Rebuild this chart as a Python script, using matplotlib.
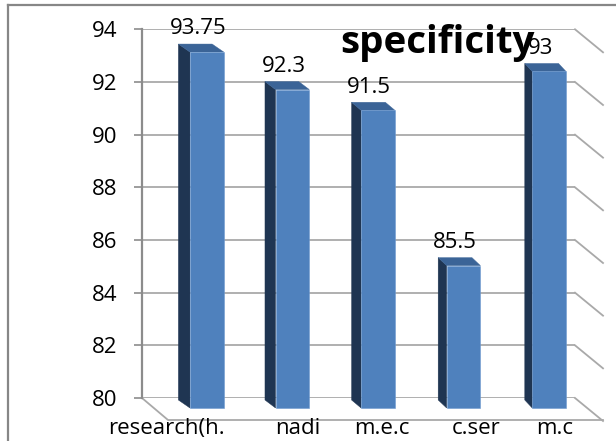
import matplotlib
matplotlib.use("Agg")
import matplotlib.pyplot as plt
from matplotlib.patches import Polygon
from matplotlib.lines import Line2D
from matplotlib.transforms import blended_transform_factory

plt.rcParams['font.family'] = ['Open Sans', 'DejaVu Sans']

# ---- data -------------------------------------------------------------
categories = ["research(h.", "nadi", "m.e.c", "c.ser", "m.c"]
values = [93.75, 92.3, 91.5, 85.5, 93]
value_labels = ["93.75", "92.3", "91.5", "85.5", "93"]
y_ticks = [80, 82, 84, 86, 88, 90, 92, 94]
title = "specificity"

# ---- figure / axes (axes area = back wall of the 3-D plot) -------------
W, H, DPI = 616, 441, 100
fig = plt.figure(figsize=(W / DPI, H / DPI), dpi=DPI)
fig.patch.set_facecolor("white")

ax_left, ax_right, ax_top, ax_bottom = 142, 575, 29.3, 398
ax = fig.add_axes([ax_left / W, 1 - ax_bottom / H,
                   (ax_right - ax_left) / W, (ax_bottom - ax_top) / H])
ax.set_xlim(-0.5, 4.5)
ax.set_ylim(80, 94)
ax.set_facecolor("none")

# data units per pixel
UX = 5.0 / (ax_right - ax_left)
UY = 14.0 / (ax_bottom - ax_top)

GRID = "#a9a9a9"
GRID_LW = 1.3
x0, x1 = ax.get_xlim()
y0 = ax.get_ylim()[0]

# back-wall gridlines and the receding side-wall lines
for t in y_ticks:
    ax.plot([x0, x1], [t, t], color=GRID, lw=GRID_LW, zorder=1,
            solid_capstyle="butt")
    ax.plot([x1, x1 + 28 * UX], [t, t - 23 * UY], color=GRID, lw=GRID_LW,
            zorder=1, clip_on=False)

# floor outline
floor_front_y = y0 - 22 * UY
ax.plot([x0, x0 + 26 * UX, x1 + 28 * UX], [y0, floor_front_y, floor_front_y],
        color=GRID, lw=GRID_LW, zorder=1, clip_on=False)

# ---- 3-D columns ------------------------------------------------------
FRONT = "#4f81bd"
SIDE = "#1f3552"
TOP = "#3b6497"
DEPTH_SCALE = 0.983
BAR_W = 0.39

for i, v in enumerate(values):
    h = (v - y0) * DEPTH_SCALE
    bl = i - 0.08                 # back-left edge
    fl = i * 0.988 + 0.054        # front-left edge
    b_bot = y0 - 2 * UY
    f_bot = y0 - 10 * UY
    b_top = b_bot + h
    f_top = f_bot + h

    ax.add_patch(Polygon([(bl, b_bot), (bl, b_top), (fl, f_top), (fl, f_bot)],
                         closed=True, facecolor=SIDE, edgecolor=SIDE, lw=0.3,
                         zorder=3, clip_on=False))
    ax.add_patch(Polygon([(bl, b_top), (bl + BAR_W, b_top),
                          (fl + BAR_W, f_top), (fl, f_top)],
                         closed=True, facecolor=TOP, edgecolor=TOP, lw=0.3,
                         zorder=3, clip_on=False))
    ax.bar(fl, f_top - f_bot, width=BAR_W, bottom=f_bot, align="edge",
           color=FRONT, edgecolor="#6f9bd0", linewidth=0.4, zorder=4,
           clip_on=False)

    ax.annotate(value_labels[i], (fl + BAR_W / 2 - 9 * UX, b_top),
                xytext=(0, 7), textcoords="offset points",
                ha="center", va="baseline", fontsize=16, color="black",
                zorder=5, annotation_clip=False)

# ---- axes styling -----------------------------------------------------
for side in ("top", "right", "bottom"):
    ax.spines[side].set_visible(False)
ax.spines["left"].set_color("#8c8c8c")
ax.spines["left"].set_linewidth(1.6)
ax.set_yticks(y_ticks)
ax.set_yticklabels([str(t) for t in y_ticks])
ax.tick_params(axis="y", length=6, width=1.2, color="#8c8c8c", pad=12,
               labelsize=16, labelcolor="black")
ax.set_xticks([])

# category labels along the front edge of the floor
label_shift = [-0.52, 0.0, -0.03, 0.06, -0.03]
trans = blended_transform_factory(ax.transData, fig.transFigure)
for i, name in enumerate(categories):
    ax.text(i + 0.3 + label_shift[i], 7 / H, name,
            transform=trans, ha="center", va="baseline", fontsize=16,
            color="black", clip_on=False)

# chart title
fig.text(437.5 / W, 1 - 53 / H, title, ha="center", va="baseline",
         fontsize=27.7, fontweight="bold", color="black")

# chart-area frame
fig.add_artist(Line2D([8 / W, 1], [1 - 5 / H, 1 - 5 / H],
                      transform=fig.transFigure, color="#878787", lw=1.6))
fig.add_artist(Line2D([8 / W, 8 / W], [0, 1 - 5 / H],
                      transform=fig.transFigure, color="#878787", lw=1.6))

fig.savefig("out.png", dpi=DPI)
